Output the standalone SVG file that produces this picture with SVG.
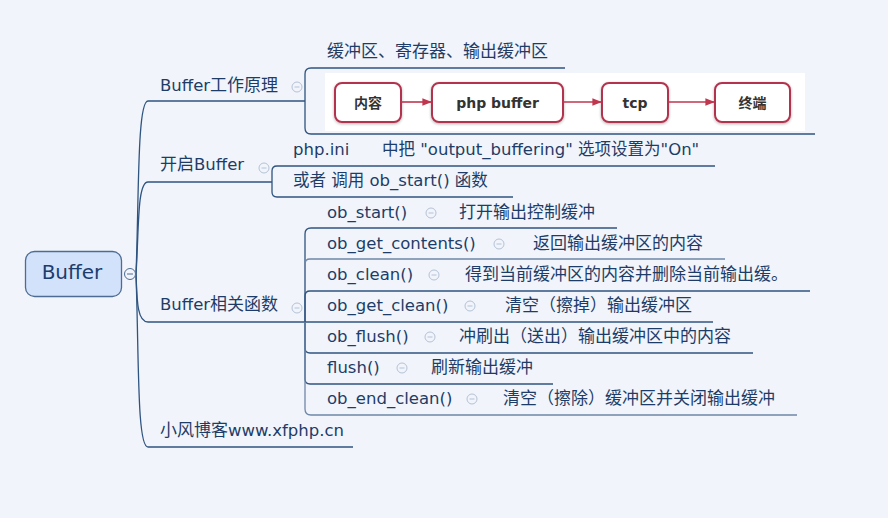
<svg xmlns="http://www.w3.org/2000/svg" width="888" height="518" viewBox="0 0 888 518">
<defs>
<style>
.t{font-family:"DejaVu Sans","Noto Sans CJK SC",sans-serif;font-size:16.5px;fill:#1d3d68}
.c{font-size:17px}
.ln{fill:none;stroke:#2f5480;stroke-width:1.3}
.lnl{fill:none;stroke:#6f87a8;stroke-width:1.3}
.cc{fill:#f1f4fa;stroke:#b4c2d6;stroke-width:1}
.cm{stroke:#b4c2d6;stroke-width:1}
.bx{fill:#fff;stroke:#b3334d;stroke-width:2}
.bt{font-family:"DejaVu Sans","Noto Sans CJK SC",sans-serif;font-size:14px;font-weight:bold;fill:#333;text-anchor:middle}
.ar{stroke:#c0364f;stroke-width:1.6;fill:none}
</style>
<marker id="ah" viewBox="0 0 10 10" refX="9" refY="5" markerWidth="6" markerHeight="6" orient="auto"><path d="M0,1 L10,5 L0,9 z" fill="#c0364f"/></marker>
<filter id="sh" x="-10%" y="-20%" width="120%" height="140%"><feGaussianBlur in="SourceAlpha" stdDeviation="1.5"/><feOffset dx="0" dy="1"/><feComponentTransfer><feFuncA type="linear" slope="0.3"/></feComponentTransfer><feMerge><feMergeNode/><feMergeNode in="SourceGraphic"/></feMerge></filter>
</defs>
<rect width="888" height="518" fill="#f1f4fa"/>

<g id="connectors">
<path class="ln" d="M136,274 C139,200 137,101 148,101 L305,101"/>
<path class="ln" d="M136,274 C139,230 137,182 148,182 L272,182"/>
<path class="ln" d="M136,274 C137,300 137,322 148,322 L305,322"/>
<path class="ln" d="M136,274 C139,360 137,447 148,447 L353,447"/>
<path class="ln" d="M305,101 L305,74 Q305,68 311,68 L565,68"/>
<path class="ln" d="M305,101 L305,128 Q305,134 311,134 L815,134"/>
<path class="ln" d="M272,182 L272,171 Q272,166 277,166 L715,166"/>
<path class="ln" d="M272,182 L272,192 Q272,197 277,197 L513,197"/>
<path class="ln" d="M305,322 L305,234 Q305,228 311,228 L617,228"/>
<path class="lnl" d="M305,322 L305,264 Q305,259 310,259 L725,259"/>
<path class="ln" d="M305,322 L305,296 Q305,291 310,291 L810,291"/>
<path class="ln" d="M305,322 L713,322"/>
<path class="ln" d="M305,322 L305,348 Q305,353 310,353 L753,353"/>
<path class="ln" d="M305,322 L305,379 Q305,384 310,384 L553,384"/>
<path class="lnl" d="M305,322 L305,409 Q305,415 311,415 L797,415"/>
</g>

<g id="root">
<rect x="25.5" y="251.5" width="96" height="45" rx="9" fill="#d3e2fb" stroke="#4d6c94" stroke-width="1.3"/>
<text x="72" y="279" font-family="DejaVu Sans, sans-serif" font-size="20" fill="#1c3d6e" text-anchor="middle">Buffer</text>
<circle cx="130" cy="274" r="5.5" fill="#f1f4fa" stroke="#4d6c94" stroke-width="1"/>
<line x1="127" y1="274" x2="133" y2="274" stroke="#4d6c94"/>
</g>

<g id="n-principle">
<text class="t" x="160" y="91">Buffer<tspan class="c">工作原理</tspan></text>
<circle class="cc" cx="297" cy="87" r="5"/><line class="cm" x1="294.5" y1="87" x2="299.5" y2="87"/>
</g>
<g id="n-terms">
<text class="t c" x="327" y="57">缓冲区、寄存器、输出缓冲区</text>
</g>
<g id="n-image">
<rect x="325" y="73" width="480" height="58" fill="#ffffff"/>
<rect class="bx" x="335" y="83" width="66" height="39" rx="7" filter="url(#sh)"/>
<rect class="bx" x="432" y="83" width="131" height="39" rx="7" filter="url(#sh)"/>
<rect class="bx" x="602" y="83" width="66" height="39" rx="7" filter="url(#sh)"/>
<rect class="bx" x="715" y="83" width="75" height="39" rx="7" filter="url(#sh)"/>
<line class="ar" x1="401" y1="102" x2="431" y2="102" marker-end="url(#ah)"/>
<line class="ar" x1="563" y1="102" x2="601" y2="102" marker-end="url(#ah)"/>
<line class="ar" x1="668" y1="102" x2="714" y2="102" marker-end="url(#ah)"/>
<text class="bt" x="368" y="108">内容</text>
<text class="bt" x="497.5" y="108">php buffer</text>
<text class="bt" x="635" y="108">tcp</text>
<text class="bt" x="752.5" y="108">终端</text>
</g>

<g id="n-enable">
<text class="t" x="160" y="170"><tspan class="c">开启</tspan>Buffer</text>
<circle class="cc" cx="264" cy="168" r="5"/><line class="cm" x1="261.5" y1="168" x2="266.5" y2="168"/>
</g>
<g id="n-phpini">
<text class="t" x="293" y="155">php.ini<tspan x="382">中把 "output_buffering" 选项设置为"On"</tspan></text>
</g>
<g id="n-obstart-call">
<text class="t" x="293" y="186">或者  调用 ob_start() 函数</text>
</g>

<g id="n-functions">
<text class="t" x="160" y="310">Buffer<tspan class="c">相关函数</tspan></text>
<circle class="cc" cx="297" cy="308" r="5"/><line class="cm" x1="294.5" y1="308" x2="299.5" y2="308"/>
</g>

<g id="f-ob_start">
<text class="t" x="327" y="218">ob_start()</text>
<circle class="cc" cx="431" cy="213" r="5"/><line class="cm" x1="428.5" y1="213" x2="433.5" y2="213"/>
<text class="t c" x="459" y="218">打开输出控制缓冲</text>
</g>
<g id="f-ob_get_contents">
<text class="t" x="327" y="249">ob_get_contents()</text>
<circle class="cc" cx="499" cy="244" r="5"/><line class="cm" x1="496.5" y1="244" x2="501.5" y2="244"/>
<text class="t c" x="533" y="249">返回输出缓冲区的内容</text>
</g>
<g id="f-ob_clean">
<text class="t" x="327" y="280">ob_clean()</text>
<circle class="cc" cx="434" cy="275" r="5"/><line class="cm" x1="431.5" y1="275" x2="436.5" y2="275"/>
<text class="t c" x="465" y="280">得到当前缓冲区的内容并删除当前输出缓。</text>
</g>
<g id="f-ob_get_clean">
<text class="t" x="327" y="311">ob_get_clean()</text>
<circle class="cc" cx="470" cy="306" r="5"/><line class="cm" x1="467.5" y1="306" x2="472.5" y2="306"/>
<text class="t c" x="505" y="311">清空（擦掉）输出缓冲区</text>
</g>
<g id="f-ob_flush">
<text class="t" x="327" y="342">ob_flush()</text>
<circle class="cc" cx="430" cy="337" r="5"/><line class="cm" x1="427.5" y1="337" x2="432.5" y2="337"/>
<text class="t c" x="459" y="342">冲刷出（送出）输出缓冲区中的内容</text>
</g>
<g id="f-flush">
<text class="t" x="327" y="373">flush()</text>
<circle class="cc" cx="402" cy="368" r="5"/><line class="cm" x1="399.5" y1="368" x2="404.5" y2="368"/>
<text class="t c" x="431" y="373">刷新输出缓冲</text>
</g>
<g id="f-ob_end_clean">
<text class="t" x="327" y="404">ob_end_clean()</text>
<circle class="cc" cx="472" cy="399" r="5"/><line class="cm" x1="469.5" y1="399" x2="474.5" y2="399"/>
<text class="t c" x="503" y="404">清空（擦除）缓冲区并关闭输出缓冲</text>
</g>

<g id="n-blog">
<text class="t" x="160" y="436"><tspan class="c">小风博客</tspan>www.xfphp.cn</text>
</g>
</svg>
